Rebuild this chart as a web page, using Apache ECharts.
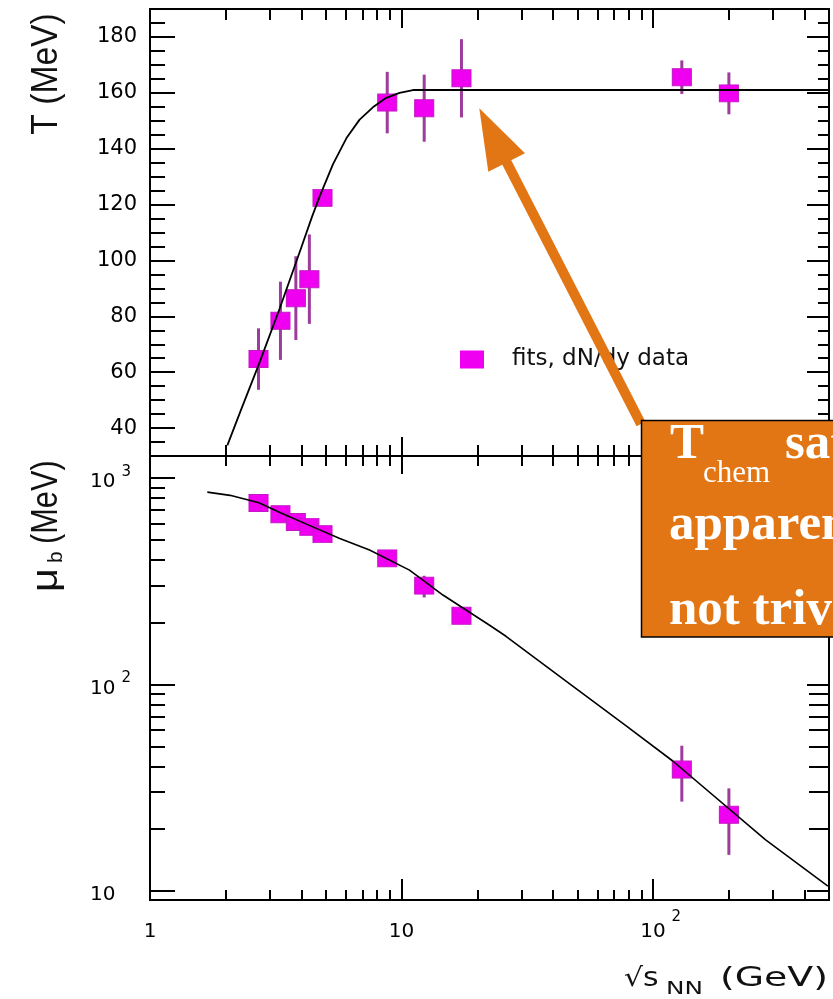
<!DOCTYPE html>
<html>
<head>
<meta charset="utf-8">
<script src="https://cdn.jsdelivr.net/npm/echarts@6.0.0/dist/echarts.min.js"></script>
<style>
html,body{margin:0;padding:0;background:#fff;}
#chart{width:833px;height:999px;}
</style>
</head>
<body>
<div id="chart"></div>
<script>
// ---- data ----
const sqrtS   = [2.7, 3.3, 3.8, 4.3, 4.85, 8.77, 12.3, 17.3, 130, 200];
const tempT   = [64.7, 78.4, 86.5, 93.3, 122.4, 156.5, 154.5, 165.2, 165.6, 159.8];
const tempErr = [11, 14, 15, 16, 3, 11, 12, 14, 6, 7.5];
const muB     = [757, 668, 612, 580, 535, 408, 301, 215, 38.6, 23.3];
const muLo    = [730, 645, 590, 560, 515, 392, 264, 205, 27, 14.9];
const muHi    = [785, 690, 635, 600, 555, 425, 336, 226, 50.4, 31.3];

const tFitX = [2.03, 2.3, 2.71, 3.28, 4.0, 4.4, 4.73, 5.34, 6.04, 6.81, 7.69, 8.69, 9.82, 11.1, 12.5, 500];
const tFitY = [33.8, 46.5, 62.9, 82.9, 104.8, 115.5, 123, 134.5, 143.8, 150.4, 154.8, 158.2, 160, 161, 161, 161];

const muFitX = [1.69, 2.08, 2.71, 3.3, 4.3, 5.68, 7.46, 10.75, 14.6, 22.3, 26.0, 47.9, 77.9, 119.3, 280, 495];
const muFitY = [855, 825, 760, 680, 590, 509, 448, 358, 271, 194, 171, 98, 63, 42.6, 17.6, 10.5];

const xMajor  = [1, 10, 100];
const xMinor  = [2, 3, 4, 5, 6, 7, 8, 9, 20, 30, 40, 50, 60, 70, 80, 90, 200, 300, 400];
const tMajor  = [40, 60, 80, 100, 120, 140, 160, 180];
const tMinor  = [35, 45, 50, 55, 65, 70, 75, 85, 90, 95, 105, 110, 115, 125, 130, 135, 145, 150, 155, 165, 170, 175, 185];
const muMajor = [10, 100, 1000];
const muMinor = [20, 30, 40, 50, 60, 70, 80, 90, 200, 300, 400, 500, 600, 700, 800, 900];

const seriesName = 'fits, dN/dy data';
const xTitle = ['√s', 'NN', '(GeV)'];
const tTitle = 'T (MeV)';
const muTitle = ['μ', 'b', '(MeV)'];
const noteText = ['T', 'chem', 'saturates', 'apparently', 'not trivial'];

// ---- styling ----
const MAG = '#F000F0';
const ERR = '#9C3C9C';
const ORANGE = '#E37614';
const X_MIN = 1, X_MAX = 500, T_MIN = 30, T_MAX = 190, MU_MIN = 9, MU_MAX = 1280;

const axisLine = {show: true, onZero: false, lineStyle: {color: '#000', width: 2}};

function supRich(lh) {
  return {
    b: {fontFamily: 'DejaVu Sans', fontSize: 20, color: '#000', verticalAlign: 'bottom', lineHeight: lh},
    s: {fontFamily: 'DejaVu Sans', fontSize: 15, color: '#000', verticalAlign: 'top', lineHeight: lh, padding: [0, 0, 0, 6]},
    p: {fontSize: 15, width: 15}
  };
}

function mkX(g, pos, ticks, len, withLabel) {
  return {
    type: 'log', logBase: 10, gridIndex: g, position: pos, min: X_MIN, max: X_MAX,
    axisLine: axisLine,
    axisTick: {show: true, inside: true, length: len, customValues: ticks, lineStyle: {color: '#000', width: 2}},
    minorTick: {show: false},
    splitLine: {show: false},
    axisLabel: withLabel ? {
      show: true, margin: 10, customValues: xMajor, rich: supRich(32),
      formatter: function (v) {
        const e = Math.round(Math.log10(v));
        if (e === 0) return '{b|1}';
        if (e === 1) return '{b|10}';
        return '{p| }{b|10}{s|' + e + '}';
      }
    } : {show: false}
  };
}

function mkYT(pos, ticks, len, withLabel) {
  return {
    type: 'value', gridIndex: 0, position: pos, min: T_MIN, max: T_MAX,
    axisLine: axisLine,
    axisTick: {show: true, inside: true, length: len, customValues: ticks, lineStyle: {color: '#000', width: 2}},
    splitLine: {show: false},
    axisLabel: withLabel ? {
      show: true, margin: 13, customValues: tMajor,
      fontFamily: 'DejaVu Sans', fontSize: 21, color: '#000'
    } : {show: false}
  };
}

function mkYMu(pos, ticks, len, withLabel) {
  return {
    type: 'log', logBase: 10, gridIndex: 1, position: pos, min: MU_MIN, max: MU_MAX,
    axisLine: axisLine,
    axisTick: {show: true, inside: true, length: len, customValues: ticks, lineStyle: {color: '#000', width: 2}},
    minorTick: {show: false},
    splitLine: {show: false},
    axisLabel: withLabel ? {
      show: true, margin: 60, align: 'left', customValues: muMajor, rich: supRich(28),
      formatter: function (v) {
        const e = Math.round(Math.log10(v));
        if (e === 1) return '{b|10}';
        return '{b|10}{s|' + e + '}';
      }
    } : {show: false}
  };
}

function errRender(params, api) {
  const x = api.value(0), lo = api.value(1), hi = api.value(2);
  const p1 = api.coord([x, lo]), p2 = api.coord([x, hi]);
  return {type: 'line', shape: {x1: p1[0], y1: p1[1], x2: p2[0], y2: p2[1]},
          style: {stroke: ERR, lineWidth: 3}};
}

const tErrData = sqrtS.map((x, i) => [x, tempT[i] - tempErr[i], tempT[i] + tempErr[i]]);
const tData = sqrtS.map((x, i) => [x, tempT[i]]);
const muErrData = sqrtS.map((x, i) => [x, muLo[i], muHi[i]]);
const muData = sqrtS.map((x, i) => [x, muB[i]]);
const tFit = tFitX.map((x, i) => [x, tFitY[i]]);
const muFit = muFitX.map((x, i) => [x, muFitY[i]]);

const chart = echarts.init(document.getElementById('chart'), null, {renderer: 'canvas'});

const markStyle = {color: MAG, opacity: 1, borderColor: '#C418C4', borderWidth: 1};

const option = {
  animation: false,
  backgroundColor: '#fff',
  grid: [
    {left: 150, right: 4, top: 9, height: 447},
    {left: 150, right: 4, top: 456, height: 444}
  ],
  xAxis: [
    mkX(0, 'bottom', xMajor, 19, false),
    mkX(0, 'bottom', xMinor, 11, false),
    mkX(0, 'top', xMajor, 19, false),
    mkX(0, 'top', xMinor, 11, false),
    mkX(1, 'top', xMajor, 18, false),
    mkX(1, 'top', xMinor, 10, false),
    mkX(1, 'bottom', xMajor, 21, true),
    mkX(1, 'bottom', xMinor, 10, false)
  ],
  yAxis: [
    mkYT('left', tMajor, 25, true),
    mkYT('left', tMinor, 15, false),
    mkYT('right', tMajor, 22, false),
    mkYT('right', tMinor, 11, false),
    mkYMu('left', muMajor, 25, true),
    mkYMu('left', muMinor, 15, false),
    mkYMu('right', muMajor, 22, false),
    mkYMu('right', muMinor, 20, false)
  ],
  legend: {
    data: [seriesName], left: 455, top: 343, icon: 'rect', itemWidth: 24, itemHeight: 18,
    itemStyle: {borderWidth: 0, opacity: 1},
    textStyle: {fontFamily: 'DejaVu Sans', fontSize: 23, color: '#111', padding: [0, 0, 0, 23]}
  },
  series: [
    {type: 'custom', xAxisIndex: 0, yAxisIndex: 0, data: tErrData, renderItem: errRender,
     encode: {x: 0, y: [1, 2]}, z: 2, silent: true},
    {type: 'scatter', name: seriesName, xAxisIndex: 0, yAxisIndex: 0, data: tData,
     symbol: 'rect', symbolSize: [19, 17], itemStyle: markStyle, z: 3},
    {type: 'line', xAxisIndex: 0, yAxisIndex: 0, data: tFit, showSymbol: false, symbol: 'none',
     smooth: false, lineStyle: {color: '#000', width: 1.8}, z: 4},
    {type: 'custom', xAxisIndex: 6, yAxisIndex: 4, data: muErrData, renderItem: errRender,
     encode: {x: 0, y: [1, 2]}, z: 2, silent: true},
    {type: 'scatter', name: seriesName, xAxisIndex: 6, yAxisIndex: 4, data: muData,
     symbol: 'rect', symbolSize: [19, 17], itemStyle: markStyle, z: 3},
    {type: 'line', xAxisIndex: 6, yAxisIndex: 4, data: muFit, showSymbol: false, symbol: 'none',
     smooth: false, lineStyle: {color: '#000', width: 1.6}, z: 4}
  ],
  graphic: [
    // y-axis titles
    {type: 'text', x: 47, y: 74, rotation: Math.PI / 2, scaleX: 1.05, scaleY: 1.15, z: 10,
     style: {text: tTitle, fontFamily: 'Liberation Sans', fontSize: 32, fill: '#111', align: 'center', verticalAlign: 'middle'}},
    {type: 'group', x: 47, y: 592, rotation: Math.PI / 2, z: 10, children: [
      {type: 'text', x: 0, y: 0, scaleX: 1.3, scaleY: 1.15,
       style: {text: muTitle[0], fontFamily: 'Liberation Sans', fontSize: 32, fill: '#111', align: 'left', verticalAlign: 'middle'}},
      {type: 'text', x: 29, y: 9,
       style: {text: muTitle[1], fontFamily: 'Liberation Sans', fontSize: 21, fill: '#111', align: 'left', verticalAlign: 'middle'}},
      {type: 'text', x: 48, y: 0, scaleX: 0.96, scaleY: 1.15,
       style: {text: muTitle[2], fontFamily: 'Liberation Sans', fontSize: 32, fill: '#111', align: 'left', verticalAlign: 'middle'}}
    ]},
    // x-axis title
    {type: 'text', x: 624, y: 979, scaleX: 1.15, z: 10,
     style: {text: xTitle[0], fontFamily: 'DejaVu Sans', fontSize: 26, fill: '#111', align: 'left', verticalAlign: 'middle'}},
    {type: 'text', x: 666, y: 989, scaleX: 1.37, z: 10,
     style: {text: xTitle[1], fontFamily: 'DejaVu Sans', fontSize: 18, fill: '#111', align: 'left', verticalAlign: 'middle'}},
    {type: 'text', x: 720, y: 979, scaleX: 1.455, z: 10,
     style: {text: xTitle[2], fontFamily: 'DejaVu Sans', fontSize: 26, fill: '#111', align: 'left', verticalAlign: 'middle'}},
    // arrow
    {type: 'line', z: 50, shape: {x1: 641, y1: 424, x2: 505, y2: 159},
     style: {stroke: ORANGE, lineWidth: 10}},
    {type: 'polygon', z: 50, shape: {points: [[479.3, 108.3], [488.3, 171.7], [525, 153.3]]},
     style: {fill: ORANGE}},
    // annotation box
    {type: 'rect', z: 60, shape: {x: 641.5, y: 420.5, width: 260, height: 216.5},
     style: {fill: ORANGE, stroke: '#000', lineWidth: 1.5}},
    {type: 'text', z: 61, x: 670, y: 444.4,
     style: {text: noteText[0], fontFamily: 'Liberation Serif', fontWeight: 'bold', fontSize: 51, fill: '#fff', align: 'left', verticalAlign: 'middle'}},
    {type: 'text', z: 61, x: 703, y: 473.5,
     style: {text: noteText[1], fontFamily: 'Liberation Serif', fontSize: 31, fill: '#fff', align: 'left', verticalAlign: 'middle'}},
    {type: 'text', z: 61, x: 785, y: 444.4,
     style: {text: noteText[2], fontFamily: 'Liberation Serif', fontWeight: 'bold', fontSize: 51, fill: '#fff', align: 'left', verticalAlign: 'middle'}},
    {type: 'text', z: 61, x: 669, y: 526,
     style: {text: noteText[3], fontFamily: 'Liberation Serif', fontWeight: 'bold', fontSize: 51, fill: '#fff', align: 'left', verticalAlign: 'middle'}},
    {type: 'text', z: 61, x: 669, y: 611,
     style: {text: noteText[4], fontFamily: 'Liberation Serif', fontWeight: 'bold', fontSize: 51, fill: '#fff', align: 'left', verticalAlign: 'middle'}}
  ]
};
chart.setOption(option);
</script>
</body>
</html>
